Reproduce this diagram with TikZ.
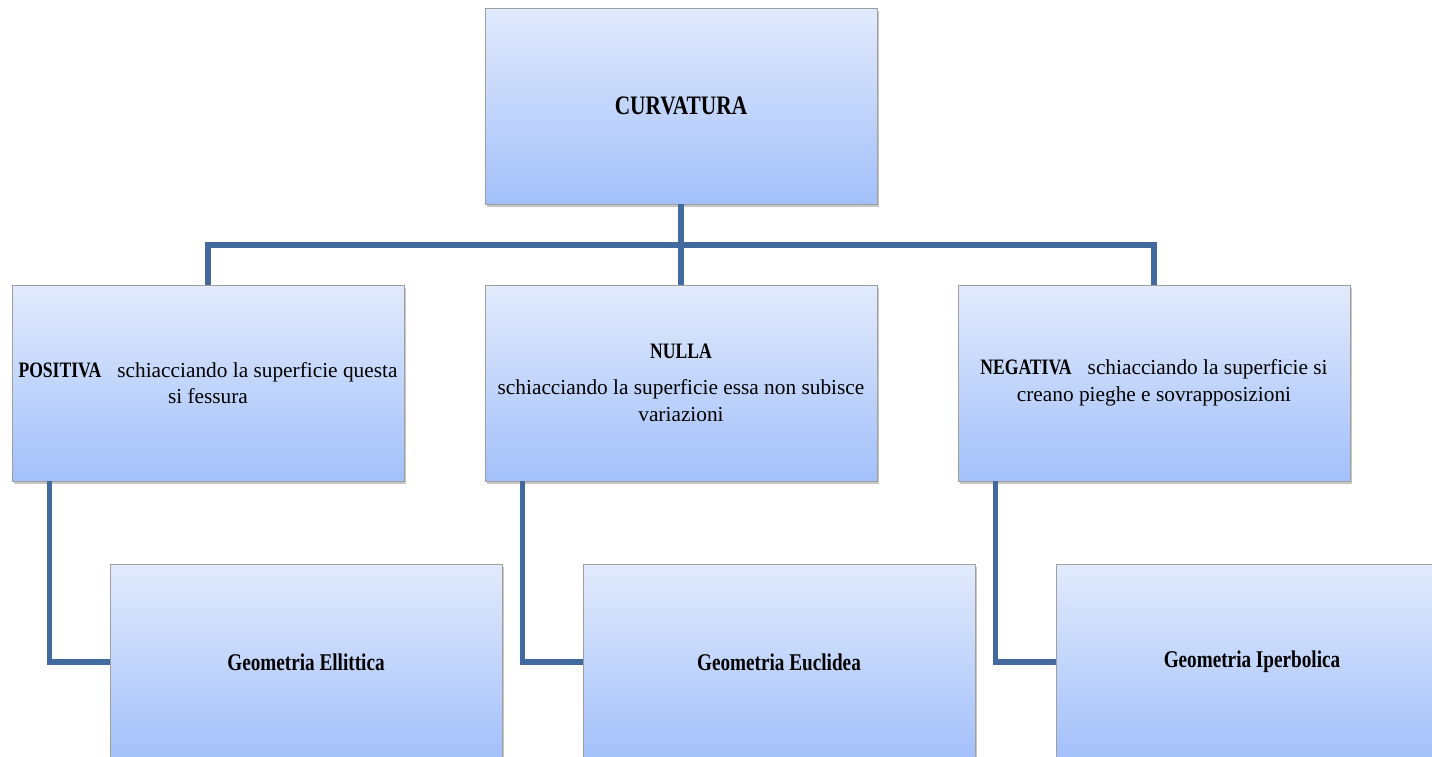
\documentclass[tikz,border=0pt]{standalone}
\usepackage{fontspec}
\setmainfont{Liberation Serif}
\newfontfamily\headfont{Liberation Serif}[FakeStretch=0.8]
\usetikzlibrary{
    calc,
    shadows,
    positioning
}
\definecolor{boxtop}{RGB}{226,234,252}
\definecolor{boxbot}{RGB}{162,192,250}
\definecolor{linkblue}{RGB}{66,106,158}

\newcommand{\headtext}[2]{{\headfont\bfseries\fontsize{#1}{#1}\selectfont #2}}

\begin{document}
\begin{tikzpicture}[x=0.75pt, y=0.75pt,
    box/.style={draw=gray!75, line width=0.6pt, top color=boxtop, bottom color=boxbot,
        minimum width=294pt, minimum height=147pt, inner sep=0pt, align=center,
        font=\fontsize{16}{20}\selectfont,
        drop shadow={shadow xshift=1.5pt, shadow yshift=-2pt, opacity=0.45}},
    link/.style={linkblue, line width=4pt}
]
    \useasboundingbox (0,0) rectangle (1432,-757);

    % top
    \node[box] (curv) at (681,-106) {\headtext{20}{CURVATURA}};

    % middle row
    \node[box] (pos) at (208,-383) {\headtext{16.5}{POSITIVA}\hspace{8pt} schiacciando la superficie questa\\ si fessura};
    \node[box] (nul) at (681,-383) {\headtext{16.5}{NULLA}\\[7pt] schiacciando la superficie essa non subisce\\ variazioni};
    \node[box] (neg) at (1154,-383) {\headtext{16.5}{NEGATIVA}\hspace{8pt} schiacciando la superficie si\\ creano pieghe e sovrapposizioni};

    % bottom row
    \node[box] (ell) at (306,-662) {\headtext{18}{Geometria Ellittica}};
    \node[box] (euc) at (779,-662) {\headtext{18}{Geometria Euclidea}};
    \node[box] (ipe) at (1252,-662) {\headtext{18}{Geometria Iperbolica}};

    % connectors
    \coordinate (bar) at (681,-245);
    \draw[link] (curv.south) -- (bar);
    \draw[link] (pos.north) |- (bar) -| (neg.north);
    \draw[link] (bar) -- (nul.north);

    \foreach \a/\b in {pos/ell, nul/euc, neg/ipe} {
        \draw[link] ($(\a.south west)+(38,0)$) |- (\b.west);
    }
\end{tikzpicture}
\end{document}
